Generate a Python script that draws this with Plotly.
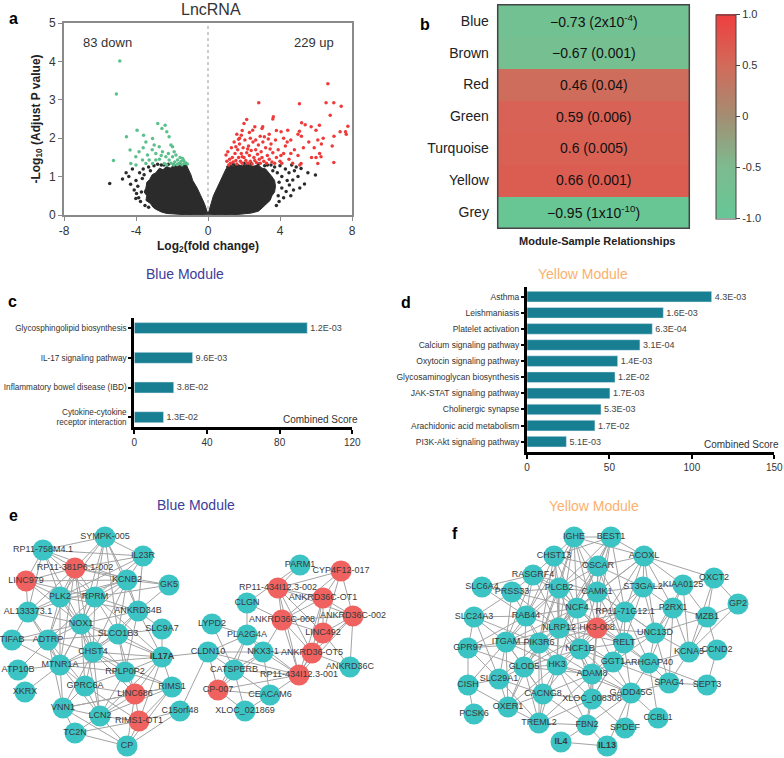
import plotly.graph_objects as go

# ---------------- a: volcano ----------------
down_x = [-4.9, -5.09, -5.25, -4.53, -3.94, -4.33, -3.58, -3.45, -2.79, -2.38, -2.56, -2.29, -2.16, -3.08,
          -2.99, -3.83, -3.36, -3.27, -2.9, -2.71, -2.53, -2.34, -2.06, -1.97, -1.88, -1.78, -1.69, -1.6,
          -1.5, -1.41, -1.32, -2.16, -1.97, -2.43, -3.08, -3.45, -4.29, -3.64, -4.01, -2.9, -1.55, -1.35,
          -1.25, -1.45, -1.7, -1.85, -2.6, -2.2, -3.1, -2.7, -1.9, -2.3, -3.6, -4.0, -1.15, -2.05]
down_y = [4.01, 3.15, 1.42, 2.04, 2.21, 1.69, 2.08, 1.9, 2.38, 2.34, 2.25, 2.17, 2.04, 1.99,
          1.82, 1.65, 1.56, 1.43, 1.6, 1.78, 1.65, 1.52, 1.82, 1.78, 1.65, 1.56, 1.43, 1.34,
          1.39, 1.47, 1.34, 1.43, 1.52, 1.34, 1.34, 1.34, 1.34, 1.43, 1.52, 1.43, 1.5, 1.42,
          1.36, 1.31, 1.32, 1.38, 1.55, 1.6, 1.7, 1.45, 1.3, 1.3, 1.75, 1.3, 1.33, 1.35]

up_x = [6.66, 2.82, 5.08, 6.56, 6.99, 7.4, 6.79, 2.15, 3.63, 3.6, 7.77, 7.64, 7.34, 7.68, 6.19, 5.73, 6.0,
        5.08, 5.19, 4.43, 4.06, 3.04, 2.48, 3.13, 3.0, 1.9, 1.6, 1.75, 2.3, 2.6, 3.4, 3.8, 4.2, 4.6, 5.0,
        5.6, 5.9, 6.1, 6.3, 6.2, 6.0, 5.75, 6.28, 6.99, 6.1, 5.17, 5.1, 6.4, 7.0, 6.9,
        1.0, 1.05, 1.1, 1.2, 1.25, 1.3, 1.35, 1.4, 1.45, 1.5, 1.55, 1.6, 1.65, 1.7, 1.75, 1.8, 1.85, 1.9,
        1.95, 2.0, 2.05, 2.1, 2.15, 2.2, 2.25, 2.3, 2.35, 2.4, 2.45, 2.5, 2.55, 2.6, 2.65, 2.7, 2.75, 2.8,
        2.85, 2.9, 2.95, 3.0, 3.1, 3.2, 3.25, 3.3, 3.4, 3.5, 3.55, 3.6, 3.7, 3.8, 3.9, 4.0, 4.1, 4.2, 4.4,
        4.5, 4.7, 4.8, 5.0, 5.3, 1.15, 1.9, 2.2, 2.65, 3.05, 3.35, 3.75, 4.3, 1.55, 2.9, 3.45, 2.35, 1.7,
        4.05, 4.6, 5.4, 5.2, 2.0, 1.85]
up_y = [3.42, 2.92, 2.9, 2.92, 2.92, 2.83, 2.6, 2.49, 2.56, 2.5, 2.31, 2.17, 2.17, 2.1, 2.34, 2.3, 2.21,
        2.18, 2.05, 2.21, 2.17, 2.3, 2.21, 2.04, 2.25, 2.2, 2.1, 2.0, 2.15, 2.3, 2.1, 2.2, 2.0, 1.95, 2.1,
        1.9, 1.75, 1.95, 1.85, 1.6, 1.5, 1.5, 1.52, 1.37, 1.34, 1.34, 1.3, 2.0, 2.05, 1.8,
        1.56, 1.4, 1.65, 1.45, 1.35, 1.75, 1.5, 1.38, 1.9, 1.6, 1.42, 1.33, 1.7, 1.5, 1.85, 1.4, 1.6, 1.35,
        1.75, 1.5, 1.95, 1.42, 1.62, 1.35, 1.8, 1.55, 1.4, 1.68, 1.33, 1.9, 1.5, 1.42, 1.7, 1.36, 1.58, 1.82,
        1.45, 1.35, 1.65, 1.5, 1.4, 1.75, 1.35, 1.55, 1.45, 1.85, 1.38, 1.62, 1.35, 1.5, 1.7, 1.4, 1.35, 1.6, 1.9,
        1.45, 1.35, 1.7, 1.55, 1.75, 1.3, 1.52, 1.72, 1.95, 1.9, 1.98, 1.95, 1.8, 1.78, 2.05, 1.72, 2.0, 1.97,
        1.55, 1.6, 2.35, 2.4, 2.38, 2.08]

# scattered non-significant genes around the dense cloud
ns_x = [-5.46, -4.75, -4.01, -3.97, -4.4, -4.2, -4.0, -3.8, -3.7, -3.9, -4.1, -3.6, -3.3, -3.0, -2.6, -2.2,
        -3.75, -3.5, -4.3, -3.55, -2.8, -1.9, -1.3, -3.85, -4.55, -3.3, -3.65, -3.2, -2.45, -1.6,
        5.36, 5.97, 5.17, 4.71, 4.52, 4.34, 4.5, 4.3, 4.1, 3.95, 3.9, 4.1, 4.6, 4.8, 4.9, 4.0, 3.7, 3.85,
        4.2, 3.95, 3.8, 4.4, 5.0, 5.1, 4.75, 3.5, 2.8, 2.0, 1.4, 5.55, 4.65, 3.3, 3.6, 3.15, 2.4, 1.1]
ns_y = [0.82, 0.94, 0.43, 0.56, 1.0, 1.2, 0.9, 1.1, 0.6, 0.75, 0.65, 1.2, 1.25, 1.28, 1.3, 1.32,
        0.35, 0.25, 0.8, 1.05, 1.32, 1.3, 1.28, 0.45, 1.1, 0.2, 0.95, 1.15, 1.3, 1.33,
        0.81, 1.04, 1.21, 0.91, 0.78, 0.61, 1.1, 1.2, 1.0, 0.85, 0.5, 0.7, 0.5, 1.15, 1.25, 1.28, 1.25, 1.1,
        0.45, 0.35, 0.25, 0.9, 1.0, 0.7, 0.65, 1.3, 1.33, 1.35, 1.32, 1.1, 1.3, 1.3, 1.15, 1.28, 1.34, 1.25]

# outline of the dense non-significant clouds
cloud_left_x = [0, -0.2, -0.4, -0.6, -0.85, -0.95, -1.1, -1.2, -1.35, -1.5, -1.7, -1.9, -2.1, -2.3, -2.5, -2.7,
                -2.9, -3.1, -3.25, -3.4, -3.45, -3.55, -3.4, -3.45, -3.2, -3.05, -2.9, -2.6, -2.3, -1.8, -1.0, 0]
cloud_left_y = [0.02, 0.3, 0.5, 0.7, 0.9, 1.05, 1.2, 1.3, 1.25, 1.3, 1.26, 1.3, 1.22, 1.27, 1.18, 1.22,
                1.1, 1.05, 0.92, 0.85, 0.7, 0.6, 0.5, 0.38, 0.3, 0.2, 0.15, 0.08, 0.04, 0.02, 0.0, 0.02]
cloud_right_x = [0, 0.15, 0.3, 0.5, 0.7, 0.85, 1.0, 1.2, 1.4, 1.6, 1.9, 2.2, 2.5, 2.8, 3.0, 3.2, 3.4, 3.55,
                 3.7, 3.75, 3.7, 3.55, 3.45, 3.25, 3.0, 2.8, 2.4, 1.8, 1.0, 0]
cloud_right_y = [0.02, 0.3, 0.5, 0.7, 0.9, 1.05, 1.2, 1.3, 1.27, 1.32, 1.28, 1.32, 1.27, 1.3, 1.22, 1.2, 1.1, 1.0,
                 0.9, 0.75, 0.6, 0.5, 0.38, 0.28, 0.18, 0.1, 0.05, 0.02, 0.0, 0.02]

# ---------------- b: module-trait heatmap ----------------
modules = ['Blue', 'Brown', 'Red', 'Green', 'Turquoise', 'Yellow', 'Grey']
corr = [-0.73, -0.67, 0.46, 0.59, 0.6, 0.66, -0.95]
corr_p = ['2x10<sup>-4</sup>', '0.001', '0.04', '0.006', '0.005', '0.001', '1x10<sup>-10</sup>']

# ---------------- c / d: KEGG bars ----------------
blue_terms = ['Glycosphingolipid biosynthesis', 'IL-17 signaling pathway',
              'Inflammatory bowel disease (IBD)', 'Cytokine-cytokine<br>receptor interaction']
blue_scores = [95.2, 32.1, 21.7, 16.1]
blue_p = ['1.2E-03', '9.6E-03', '3.8E-02', '1.3E-02']

yellow_terms = ['Asthma', 'Leishmaniasis', 'Platelet activation', 'Calcium signaling pathway',
                'Oxytocin signaling pathway', 'Glycosaminoglycan biosynthesis', 'JAK-STAT signaling pathway',
                'Cholinergic synapse', 'Arachidonic acid metabolism', 'PI3K-Akt signaling pathway']
yellow_scores = [112, 82.7, 76, 68.5, 55, 53.4, 50.3, 44.9, 41.2, 23.9]
yellow_p = ['4.3E-03', '1.6E-03', '6.3E-04', '3.1E-04', '1.4E-03', '1.2E-02', '1.7E-03', '5.3E-03', '1.7E-02', '5.1E-03']

# ---------------- e / f: co-expression networks ----------------
# node layout (network drawing coordinates)
blue_nodes = {
    'SYMPK-005': (105, 537), 'RP11-758M4.1': (43, 550), 'IL23R': (143, 556), 'RP11-381P6.1-002': (75, 568),
    'LINC979': (26, 581), 'KCNB2': (127, 580), 'GK5': (169, 585), 'PLK2': (60, 597), 'RPRM': (95, 597),
    'AL133373.1': (28, 612), 'ANKRD34B': (138, 611), 'NOX1': (81, 624), 'SLC9A7': (162, 629),
    'SLCO1B3': (118, 634), 'TIFAB': (12, 640), 'ADTRP': (48, 640), 'CHST4': (93, 652), 'IL17A': (162, 657),
    'MTNR1A': (60, 665), 'ATP10B': (18, 670), 'RPLP0P2': (125, 672), 'RIMS1': (172, 687), 'XKRX': (25, 692),
    'GPRC6A': (85, 686), 'LINC686': (135, 694), 'VNN1': (63, 708), 'LCN2': (100, 716), 'C15orf48': (180, 711),
    'RIMS1-OT1': (139, 721), 'TC2N': (75, 733), 'CP': (127, 746),
    'PARM1': (300, 565), 'CYP4F12-017': (341, 571), 'RP11-434I12.3-002': (278, 588), 'ANKRD36C-OT1': (323, 598),
    'CLGN': (247, 603), 'ANKRD36C-002': (353, 616), 'ANKRD36C-008': (282, 620), 'LYPD2': (212, 624),
    'LINC492': (323, 633), 'PLA2G4A': (247, 635), 'CLDN10': (208, 652), 'NKX3-1': (263, 652),
    'ANKRD36-OT5': (312, 653), 'ANKRD36C': (350, 667), 'CATSPERB': (234, 670), 'RP11-434I12.3-001': (299, 675),
    'CP-007': (218, 690), 'CEACAM6': (270, 695), 'XLOC_021869': (245, 711),
}
blue_red = ['RP11-381P6.1-002', 'LINC979', 'LINC686', 'RIMS1-OT1', 'CYP4F12-017', 'RP11-434I12.3-002',
            'ANKRD36C-OT1', 'ANKRD36C-002', 'ANKRD36C-008', 'LINC492', 'ANKRD36-OT5', 'RP11-434I12.3-001', 'CP-007']
blue_edges = {
    'SYMPK-005': ['RP11-758M4.1', 'RP11-381P6.1-002', 'KCNB2', 'RPRM', 'PLK2', 'NOX1', 'ANKRD34B', 'IL23R', 'SLCO1B3'],
    'RP11-758M4.1': ['RP11-381P6.1-002', 'LINC979', 'KCNB2', 'RPRM', 'PLK2', 'NOX1', 'IL23R', 'AL133373.1'],
    'IL23R': ['RP11-381P6.1-002', 'KCNB2', 'RPRM', 'ANKRD34B', 'PLK2'],
    'RP11-381P6.1-002': ['LINC979', 'KCNB2', 'PLK2', 'RPRM', 'NOX1', 'ADTRP', 'MTNR1A', 'GK5', 'AL133373.1', 'CHST4'],
    'LINC979': ['PLK2', 'KCNB2', 'AL133373.1', 'NOX1', 'RPRM'],
    'KCNB2': ['PLK2', 'RPRM', 'ANKRD34B', 'GK5', 'NOX1', 'SLCO1B3', 'CHST4', 'AL133373.1'],
    'GK5': ['ANKRD34B', 'RPRM'],
    'PLK2': ['RPRM', 'NOX1', 'AL133373.1', 'ADTRP', 'MTNR1A', 'CHST4', 'ANKRD34B'],
    'RPRM': ['NOX1', 'ANKRD34B', 'SLCO1B3', 'CHST4', 'ADTRP', 'MTNR1A', 'IL17A'],
    'AL133373.1': ['NOX1', 'ADTRP', 'TIFAB', 'MTNR1A'],
    'ANKRD34B': ['NOX1', 'SLCO1B3', 'SLC9A7', 'CHST4', 'IL17A', 'RPLP0P2'],
    'NOX1': ['SLCO1B3', 'ADTRP', 'CHST4', 'MTNR1A', 'TIFAB', 'GPRC6A', 'RPLP0P2', 'IL17A', 'LCN2'],
    'SLC9A7': ['SLCO1B3', 'IL17A'],
    'SLCO1B3': ['CHST4', 'IL17A', 'RPLP0P2', 'MTNR1A', 'ADTRP', 'LINC686'],
    'TIFAB': ['ADTRP', 'MTNR1A'],
    'ADTRP': ['CHST4', 'MTNR1A', 'ATP10B', 'GPRC6A', 'VNN1'],
    'CHST4': ['MTNR1A', 'IL17A', 'RPLP0P2', 'GPRC6A', 'LINC686', 'LCN2', 'VNN1', 'RIMS1'],
    'IL17A': ['RPLP0P2', 'RIMS1', 'LINC686', 'LCN2', 'RIMS1-OT1', 'MTNR1A', 'CLDN10'],
    'MTNR1A': ['ATP10B', 'GPRC6A', 'VNN1', 'XKRX', 'LCN2', 'RPLP0P2'],
    'RPLP0P2': ['GPRC6A', 'LINC686', 'LCN2', 'RIMS1'],
    'RIMS1': ['LINC686', 'RIMS1-OT1', 'LCN2', 'CP', 'VNN1'],
    'GPRC6A': ['LINC686', 'LCN2', 'VNN1', 'RIMS1-OT1'],
    'LINC686': ['LCN2', 'RIMS1-OT1', 'VNN1', 'CP'],
    'VNN1': ['LCN2', 'TC2N', 'CP'],
    'LCN2': ['RIMS1-OT1', 'TC2N', 'CP'],
    'C15orf48': ['RIMS1-OT1', 'CP', 'CLDN10'],
    'RIMS1-OT1': ['CP'],
    'TC2N': ['CP', 'RIMS1-OT1'],
    'PARM1': ['RP11-434I12.3-002', 'CLGN'],
    'CYP4F12-017': ['ANKRD36C-OT1', 'ANKRD36C-002', 'RP11-434I12.3-002', 'LINC492', 'ANKRD36C-008'],
    'RP11-434I12.3-002': ['ANKRD36C-OT1', 'ANKRD36C-008', 'LINC492', 'ANKRD36C-002', 'ANKRD36-OT5', 'RP11-434I12.3-001'],
    'ANKRD36C-OT1': ['ANKRD36C-008', 'ANKRD36C-002', 'LINC492', 'ANKRD36-OT5', 'RP11-434I12.3-001'],
    'CLGN': ['ANKRD36C-008', 'PLA2G4A'],
    'ANKRD36C-002': ['LINC492', 'ANKRD36-OT5', 'ANKRD36C', 'ANKRD36C-008', 'RP11-434I12.3-001'],
    'ANKRD36C-008': ['LINC492', 'ANKRD36-OT5', 'RP11-434I12.3-001', 'NKX3-1'],
    'LYPD2': ['PLA2G4A', 'CATSPERB'],
    'LINC492': ['ANKRD36-OT5', 'RP11-434I12.3-001', 'ANKRD36C'],
    'PLA2G4A': ['CLDN10', 'NKX3-1', 'CATSPERB', 'RP11-434I12.3-001', 'CP-007'],
    'CLDN10': ['NKX3-1', 'CATSPERB', 'CP-007', 'RP11-434I12.3-001'],
    'NKX3-1': ['CATSPERB', 'RP11-434I12.3-001', 'CEACAM6', 'ANKRD36-OT5', 'CP-007'],
    'ANKRD36-OT5': ['RP11-434I12.3-001', 'ANKRD36C'],
    'CATSPERB': ['CP-007', 'CEACAM6', 'XLOC_021869', 'RP11-434I12.3-001'],
    'RP11-434I12.3-001': ['CEACAM6', 'CP-007'],
    'CP-007': ['CEACAM6', 'XLOC_021869'],
    'CEACAM6': ['XLOC_021869'],
}

yellow_nodes = {
    'IGHE': (574, 537), 'BEST1': (611, 537), 'CHST13': (554, 556), 'ACOXL': (644, 556), 'OSCAR': (598, 566),
    'RASGRF4': (533, 575), 'OXCT2': (714, 578), 'KIAA0125': (683, 585), 'ST3GAL2': (643, 587),
    'SLC6A4': (482, 587), 'PLCB2': (559, 588), 'PRSS33': (512, 592), 'CAMK1': (597, 592), 'GP2': (738, 604),
    'NCF4': (577, 608), 'P2RX1': (673, 608), 'RP11-71G12.1': (625, 612), 'RAB44': (526, 616),
    'MZB1': (707, 617), 'SLC24A3': (474, 617), 'NLRP12': (559, 628), 'HK3-008': (597, 628),
    'UNC13D': (655, 633), 'ITGAM': (506, 642), 'RELT': (624, 643), 'PIK3R6': (539, 643), 'GPR97': (468, 648),
    'NCF1B': (580, 649), 'CCND2': (717, 650), 'KCNA5': (689, 652), 'GGT1': (613, 662), 'ARHGAP40': (649, 663),
    'HK3': (557, 665), 'GLOD5': (524, 667), 'ADAM8': (592, 674), 'SLC29A1': (499, 679), 'SPAG4': (669, 683),
    'CISH': (468, 685), 'SEPT3': (707, 685), 'GADD45G': (631, 693), 'CACNG8': (543, 694),
    'XLOC_008308': (592, 699), 'OXER1': (508, 707), 'PCSK6': (474, 714), 'CCBL1': (658, 718),
    'TREML2': (539, 723), 'FBN2': (587, 725), 'SPDEF': (625, 728), 'IL4': (561, 742), 'IL13': (607, 746),
}
yellow_red = ['HK3-008']
yellow_edges = {
    'IGHE': ['BEST1', 'CHST13', 'PLCB2', 'NCF4', 'OSCAR', 'CAMK1', 'NLRP12', 'HK3-008', 'ACOXL', 'RAB44', 'PIK3R6'],
    'BEST1': ['OSCAR', 'CAMK1', 'NCF4', 'PLCB2', 'HK3-008', 'RP11-71G12.1', 'ACOXL', 'NLRP12', 'CHST13'],
    'CHST13': ['RASGRF4', 'PLCB2', 'NCF4', 'OSCAR', 'CAMK1', 'NLRP12', 'RAB44', 'PIK3R6'],
    'RASGRF4': ['PRSS33', 'PLCB2', 'NCF4', 'RAB44', 'CAMK1', 'NLRP12', 'SLC6A4', 'ITGAM'],
    'SLC6A4': ['PRSS33', 'RAB44'],
    'PRSS33': ['PLCB2', 'RAB44', 'NCF4', 'NLRP12', 'ITGAM', 'SLC24A3'],
    'PLCB2': ['NCF4', 'OSCAR', 'CAMK1', 'RAB44', 'NLRP12', 'HK3-008', 'PIK3R6', 'NCF1B', 'HK3', 'ITGAM'],
    'OSCAR': ['CAMK1', 'NCF4', 'ACOXL', 'HK3-008', 'NLRP12', 'RP11-71G12.1', 'ST3GAL2', 'RELT'],
    'ACOXL': ['CAMK1', 'ST3GAL2', 'KIAA0125', 'RP11-71G12.1', 'HK3-008', 'P2RX1', 'OXCT2', 'NCF4', 'UNC13D'],
    'CAMK1': ['NCF4', 'HK3-008', 'RP11-71G12.1', 'NLRP12', 'ST3GAL2', 'RELT', 'NCF1B', 'UNC13D'],
    'ST3GAL2': ['RP11-71G12.1', 'KIAA0125', 'P2RX1', 'UNC13D', 'HK3-008', 'RELT'],
    'KIAA0125': ['P2RX1', 'OXCT2', 'MZB1', 'UNC13D', 'KCNA5'],
    'OXCT2': ['GP2', 'MZB1', 'KCNA5'],
    'GP2': ['MZB1', 'KCNA5'],
    'P2RX1': ['MZB1', 'UNC13D', 'KCNA5', 'RP11-71G12.1', 'ARHGAP40', 'SPAG4'],
    'MZB1': ['KCNA5', 'CCND2', 'UNC13D'],
    'RP11-71G12.1': ['HK3-008', 'RELT', 'UNC13D', 'NCF4', 'NLRP12', 'NCF1B', 'GGT1', 'ARHGAP40'],
    'NCF4': ['NLRP12', 'HK3-008', 'RAB44', 'PIK3R6', 'NCF1B', 'HK3', 'ITGAM', 'GLOD5', 'RELT'],
    'RAB44': ['NLRP12', 'ITGAM', 'PIK3R6', 'SLC24A3', 'GPR97', 'GLOD5', 'HK3'],
    'SLC24A3': ['ITGAM', 'GPR97', 'PIK3R6', 'SLC29A1'],
    'NLRP12': ['HK3-008', 'PIK3R6', 'NCF1B', 'HK3', 'ITGAM', 'GLOD5', 'ADAM8', 'RELT', 'GGT1'],
    'HK3-008': ['PIK3R6', 'NCF1B', 'HK3', 'RELT', 'GGT1', 'ADAM8', 'UNC13D', 'ARHGAP40', 'GLOD5', 'XLOC_008308'],
    'ITGAM': ['GPR97', 'PIK3R6', 'GLOD5', 'SLC29A1', 'HK3', 'CISH', 'OXER1', 'CACNG8'],
    'GPR97': ['PIK3R6', 'SLC29A1', 'CISH', 'GLOD5'],
    'PIK3R6': ['NCF1B', 'HK3', 'GLOD5', 'ADAM8', 'SLC29A1', 'CACNG8', 'OXER1', 'TREML2'],
    'NCF1B': ['HK3', 'ADAM8', 'GLOD5', 'RELT', 'GGT1', 'XLOC_008308', 'CACNG8', 'GADD45G'],
    'UNC13D': ['RELT', 'ARHGAP40', 'KCNA5', 'SPAG4', 'GGT1'],
    'RELT': ['GGT1', 'ARHGAP40', 'ADAM8', 'GADD45G', 'XLOC_008308'],
    'KCNA5': ['CCND2', 'SPAG4', 'ARHGAP40'],
    'CCND2': ['SEPT3'],
    'GLOD5': ['HK3', 'SLC29A1', 'CACNG8', 'OXER1', 'TREML2', 'ADAM8'],
    'HK3': ['ADAM8', 'CACNG8', 'XLOC_008308', 'TREML2', 'OXER1', 'GADD45G', 'FBN2'],
    'ADAM8': ['GGT1', 'XLOC_008308', 'CACNG8', 'GADD45G', 'TREML2', 'FBN2'],
    'GGT1': ['ARHGAP40', 'GADD45G', 'XLOC_008308', 'SPAG4'],
    'ARHGAP40': ['SPAG4', 'GADD45G', 'CCBL1', 'SEPT3'],
    'SPAG4': ['SEPT3', 'GADD45G'],
    'SLC29A1': ['CISH', 'OXER1', 'CACNG8', 'TREML2'],
    'CISH': ['PCSK6', 'OXER1'],
    'OXER1': ['CACNG8', 'TREML2'],
    'CACNG8': ['TREML2', 'XLOC_008308', 'FBN2'],
    'XLOC_008308': ['TREML2', 'GADD45G', 'FBN2', 'SPDEF'],
    'GADD45G': ['SPDEF', 'CCBL1', 'FBN2', 'IL13'],
    'TREML2': ['FBN2'],
    'FBN2': ['IL4', 'IL13'],
    'IL4': ['IL13'],
}
bold_genes = ['IL17A', 'IL4', 'IL13']

W, H = 784, 758
FONT = 'Arial, Liberation Sans, sans-serif'
TEAL = '#187f93'


def fx(p):
    return p / W


def fy(p):
    return 1 - p / H


fig = go.Figure()

# a
for cx, cy in [(cloud_left_x, cloud_left_y), (cloud_right_x, cloud_right_y)]:
    fig.add_trace(go.Scatter(x=cx, y=cy, fill='toself', fillcolor='#2b2b2b', mode='lines',
                             line=dict(width=1, color='#2b2b2b'), xaxis='x', yaxis='y', hoverinfo='skip'))
fig.add_trace(go.Scatter(x=ns_x, y=ns_y, mode='markers', marker=dict(size=3.5, color='#2b2b2b'),
                         xaxis='x', yaxis='y'))
fig.add_trace(go.Scatter(x=down_x, y=down_y, mode='markers', marker=dict(size=3.5, color='#5cc08c'),
                         xaxis='x', yaxis='y'))
fig.add_trace(go.Scatter(x=up_x, y=up_y, mode='markers', marker=dict(size=3.5, color='#f03a3a'),
                         xaxis='x', yaxis='y'))

# b
fig.add_trace(go.Heatmap(
    z=[[c] for c in corr], x=[0], y=modules, xaxis='x2', yaxis='y2', zmin=-1, zmax=1,
    colorscale=[[0, '#66c796'], [0.25, '#7dbb8f'], [0.5, '#a48d72'], [0.75, '#d26a5a'], [1, '#ef3e3e']],
    showscale=True, hoverinfo='skip',
    colorbar=dict(x=fx(706), xanchor='left', y=fy(116.5), yanchor='middle', len=224 / H, lenmode='fraction',
                  thickness=20, outlinewidth=1, outlinecolor='#444', ticks='outside', ticklen=4,
                  tickvals=[-1, -0.5, 0, 0.5, 1], ticktext=['-1.0', '-0.5', '0', '0.5', '1.0'],
                  tickfont=dict(size=11, color='#333'))
))

# c
fig.add_trace(go.Bar(x=blue_scores, y=list(range(len(blue_terms))), orientation='h', width=0.37,
                     marker=dict(color=TEAL), text=blue_p, textposition='outside', cliponaxis=False,
                     textfont=dict(size=9, color='#444'), xaxis='x3', yaxis='y3'))
# d
fig.add_trace(go.Bar(x=yellow_scores, y=list(range(len(yellow_terms))), orientation='h', width=0.66,
                     marker=dict(color=TEAL), text=yellow_p, textposition='outside', cliponaxis=False,
                     textfont=dict(size=9, color='#444'), xaxis='x4', yaxis='y4'))


# e / f networks
def add_network(nodes, edges, red):
    ex, ey = [], []
    for a, nbrs in edges.items():
        for b in nbrs:
            ex += [nodes[a][0], nodes[b][0], None]
            ey += [nodes[a][1], nodes[b][1], None]
    fig.add_trace(go.Scatter(x=ex, y=ey, mode='lines', line=dict(color='#a3a3a3', width=1),
                             xaxis='x5', yaxis='y5', hoverinfo='skip'))
    names = list(nodes)
    fig.add_trace(go.Scatter(
        x=[nodes[n][0] for n in names], y=[nodes[n][1] for n in names], mode='markers+text',
        marker=dict(size=21, color=['#f0625f' if n in red else '#3cc3c3' for n in names], line=dict(width=0)),
        text=['<b>%s</b>' % n if n in bold_genes else n for n in names], textposition='middle center',
        textfont=dict(size=9, color='#3a3a3a'), xaxis='x5', yaxis='y5', cliponaxis=False))


add_network(blue_nodes, blue_edges, blue_red)
add_network(yellow_nodes, yellow_edges, yellow_red)

ann = []


def label(x, y, t, size=13, color='#222', bold=False):
    ann.append(dict(x=fx(x), y=fy(y), xref='paper', yref='paper', text='<b>%s</b>' % t if bold else t,
                    showarrow=False, xanchor='center', yanchor='middle', font=dict(size=size, color=color)))


label(13, 18, 'a', 16, '#000', True)
label(211, 10, 'LncRNA', 16, '#333')
label(107, 43, '83 down', 13, '#333')
label(314, 43, '229 up', 13, '#333')
label(425, 25, 'b', 16, '#000', True)
label(597, 241, 'Module-Sample Relationships', 11, '#222', True)
label(185, 274, 'Blue Module', 14, '#3d3d9b')
label(583, 274, 'Yellow Module', 14, '#fbb06d')
label(12, 301, 'c', 16, '#000', True)
label(406, 303, 'd', 16, '#000', True)
label(320, 419, 'Combined Score', 10, '#333')
label(741, 444, 'Combined Score', 10, '#333')
label(13, 515, 'e', 16, '#000', True)
label(196, 505, 'Blue Module', 14, '#3d3d9b')
label(455, 533, 'f', 16, '#000', True)
label(594, 506, 'Yellow Module', 14, '#fbb06d')

for m, c, p in zip(modules, corr, corr_p):
    v = ('%g' % c).replace('-', '\u2212')
    ann.append(dict(x=0, y=m, xref='x2', yref='y2', text='%s (%s)' % (v, p), showarrow=False,
                    font=dict(size=14, color='#111')))

frame = dict(showgrid=False, zeroline=False, automargin=False)
bar_ax = dict(showline=True, linecolor='#000', linewidth=3, ticks='outside', ticklen=4, tickwidth=2,
              tickcolor='#000', showgrid=False, zeroline=False, automargin=False,
              tickfont=dict(size=10, color='#333'))

fig.update_layout(
    width=W, height=H, margin=dict(l=0, r=0, t=0, b=0, autoexpand=False), showlegend=False,
    paper_bgcolor='white', plot_bgcolor='white', font=dict(family=FONT, color='#333'),
    xaxis=dict(domain=[fx(64), fx(352)], range=[-8, 8], tickvals=[-8, -4, 0, 4, 8],
               ticktext=['-8', '-4', '0', '4', '8'], showline=True, mirror=True, linecolor='#8a8a8a',
               linewidth=2, ticks='outside', ticklen=4, tickcolor='#8a8a8a', tickfont=dict(size=12),
               title=dict(text='<b>Log<sub>2</sub>(fold change)</b>', font=dict(size=12, color='#222'), standoff=4),
               anchor='y', **frame),
    yaxis=dict(domain=[fy(215), fy(23)], range=[0, 5], dtick=1, showline=True, mirror=True,
               linecolor='#8a8a8a', linewidth=2, ticks='outside', ticklen=4, tickcolor='#8a8a8a',
               tickfont=dict(size=12),
               title=dict(text='<b>-Log<sub>10</sub> (Adjust P value)</b>', font=dict(size=12, color='#222'), standoff=6),
               anchor='x', **frame),
    xaxis2=dict(domain=[fx(497.7), fx(689.3)], range=[-0.5, 0.5], visible=False, anchor='y2', automargin=False),
    yaxis2=dict(domain=[fy(228.3), fy(4.7)], autorange='reversed', anchor='x2', ticks='outside', ticklen=5,
                tickcolor='rgba(0,0,0,0)', tickfont=dict(size=14, color='#222'), **frame),
    xaxis3=dict(domain=[fx(134.3), fx(352.3)], range=[0, 120], tickvals=[0, 40, 80, 120], anchor='y3', **bar_ax),
    yaxis3=dict(domain=[fy(426.7), fy(318)], range=[3.32, -0.34], tickvals=list(range(len(blue_terms))),
                ticktext=blue_terms, anchor='x3',
                **{**bar_ax, 'ticklen': 3, 'tickfont': dict(size=8.2, color='#333')}),
    xaxis4=dict(domain=[fx(527), fx(774.3)], range=[0, 150], tickvals=[0, 50, 100, 150], anchor='y4', **bar_ax),
    yaxis4=dict(domain=[fy(452.3), fy(286.7)], range=[9.66, -0.62], tickvals=list(range(len(yellow_terms))),
                ticktext=yellow_terms, anchor='x4',
                **{**bar_ax, 'ticklen': 3, 'tickfont': dict(size=8.5, color='#333')}),
    xaxis5=dict(domain=[0, 1], range=[0, W], visible=False, anchor='y5', automargin=False),
    yaxis5=dict(domain=[0, fy(480)], range=[H, 480], visible=False, anchor='x5', automargin=False),
    annotations=ann,
    shapes=[
        dict(type='line', xref='x', yref='y', x0=0, x1=0, y0=0, y1=5, layer='below',
             line=dict(color='#999', width=1, dash='dot')),
        dict(type='rect', xref='x2 domain', yref='y2 domain', x0=0, x1=1, y0=0, y1=1,
             line=dict(color='#444', width=1.5)),
    ],
)

# the page body has a default 8px margin; drop it so the figure fills the window
fig.write_html("out.html", config={'displayModeBar': False},
               post_script="document.body.style.margin='0px';")
